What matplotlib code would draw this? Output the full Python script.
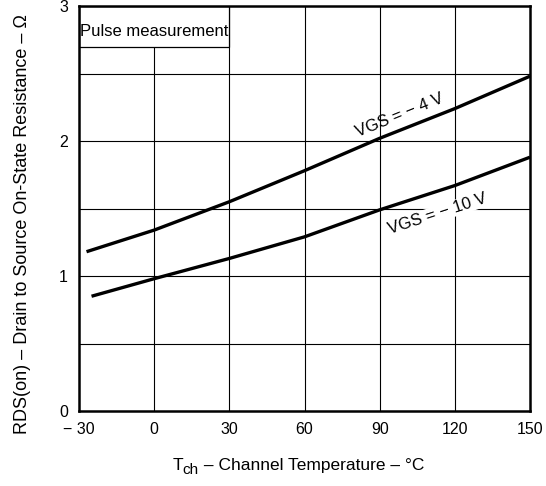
import matplotlib
matplotlib.use("Agg")
import matplotlib.pyplot as plt
from matplotlib.patches import Rectangle
from matplotlib.transforms import offset_copy

plt.rcParams['font.family'] = ['Liberation Sans', 'DejaVu Sans']

# Channel temperature (degC) and on-state resistance (ohm)
temp_4v = [-27, 0, 30, 60, 90, 120, 150]
rds_4v = [1.18, 1.34, 1.55, 1.78, 2.02, 2.24, 2.48]
temp_10v = [-25, 0, 30, 60, 90, 120, 150]
rds_10v = [0.85, 0.98, 1.13, 1.29, 1.49, 1.67, 1.88]

xticks = [-30, 0, 30, 60, 90, 120, 150]
xticklabels = ['\u2212 30', '0', '30', '60', '90', '120', '150']
yticks = [0, 1, 2, 3]

fig = plt.figure(figsize=(5.46, 4.86), dpi=100)
ax = fig.add_axes([79 / 546, 1 - 411 / 486, (530 - 79) / 546, (411 - 6) / 486])

ax.set_xlim(-30, 150)
ax.set_ylim(0, 3)

# grid
for x in xticks[1:-1]:
    ax.axvline(x, color='k', lw=0.8, zorder=1)
for y in [0.5, 1, 1.5, 2, 2.5]:
    ax.axhline(y, color='k', lw=0.8, zorder=1)

# curves
ax.plot(temp_4v, rds_4v, color='k', lw=2.4, solid_capstyle='butt', zorder=3)
ax.plot(temp_10v, rds_10v, color='k', lw=2.4, solid_capstyle='butt', zorder=3)

ax.text(98, 2.19, 'VGS = \u2212 4 V', rotation=22, ha='center', va='center',
        fontsize=12, zorder=4)
ax.text(113, 1.46, 'VGS = \u2212 10 V', rotation=18, ha='center', va='center',
        fontsize=12, zorder=4,
        bbox=dict(facecolor='white', edgecolor='none', pad=0.5))

# pulse measurement box
ax.add_patch(Rectangle((-30, 2.7), 60, 0.3, facecolor='white', edgecolor='k',
                       lw=0.9, zorder=2))
ax.text(-29.5, 2.81, 'Pulse measurement', ha='left', va='center',
        fontsize=12, zorder=4)

ax.set_xticks(xticks)
ax.set_xticklabels(xticklabels, fontsize=11.5)
ax.set_yticks(yticks)
ax.set_yticklabels([str(v) for v in yticks], fontsize=11.5)
ax.tick_params(length=0, pad=8)

for s in ax.spines.values():
    s.set_linewidth(1.8)

# x label built from pieces so the "ch" subscript stays large
fig.canvas.draw()
r = fig.canvas.get_renderer()
t1 = fig.text(173 / 546, 1 - 470 / 486, 'T', ha='left', va='baseline', fontsize=12.5)
w = t1.get_window_extent(r).width
t2 = fig.text(173 / 546, 1 - 470 / 486, 'ch', ha='left', va='baseline', fontsize=11,
              transform=offset_copy(fig.transFigure, fig, x=w - 1, y=-4, units='dots'))
w2 = t2.get_window_extent(r).width
fig.text(173 / 546, 1 - 470 / 486, ' \u2013 Channel Temperature \u2013 \u00b0C',
         ha='left', va='baseline', fontsize=12.5,
         transform=offset_copy(fig.transFigure, fig, x=w + w2 - 1, y=0, units='dots'))

fig.text(23 / 546, 1 - 434 / 486,
         'RDS(on) \u2013 Drain to Source On-State Resistance \u2013 \u03a9',
         rotation=90, ha='center', va='bottom', fontsize=13)

fig.savefig('out.png', dpi=100)
